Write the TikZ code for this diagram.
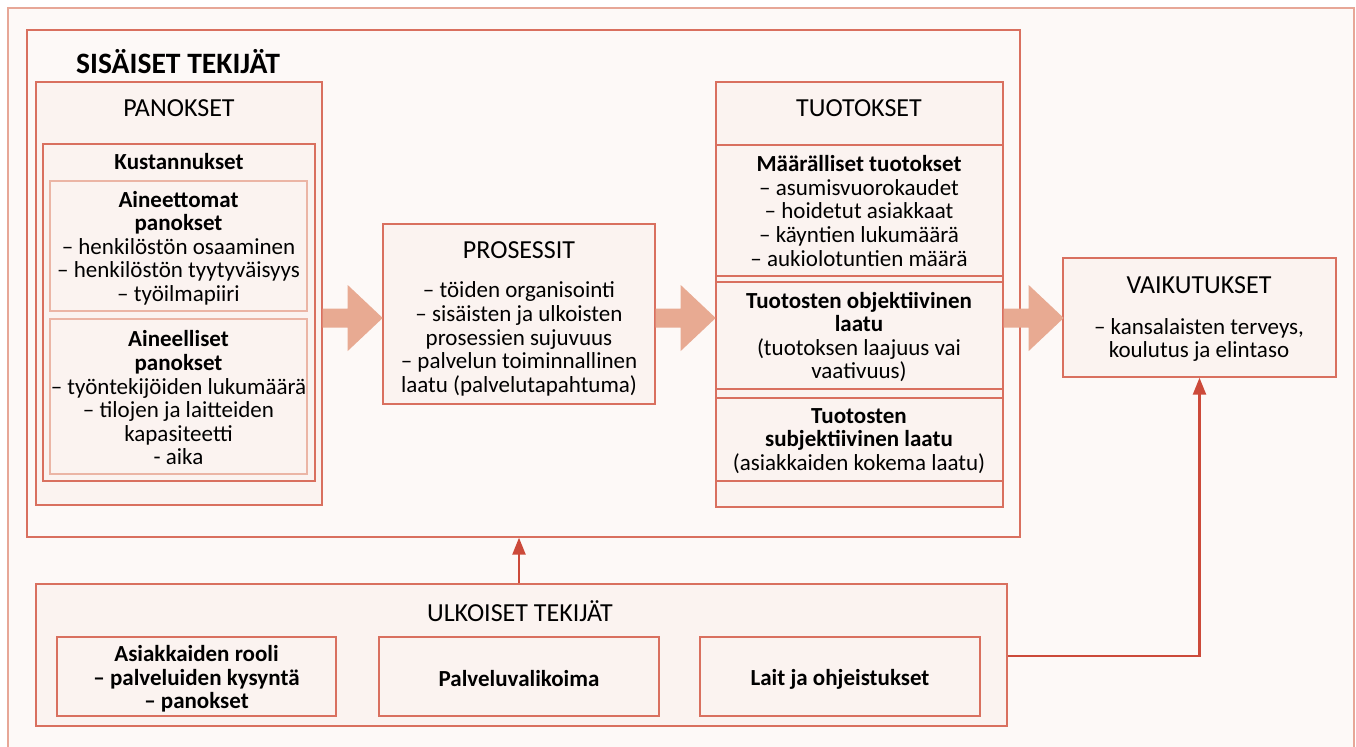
\documentclass[tikz,border=0pt]{standalone}
\usepackage{fontspec}
\setmainfont{Carlito}
\usetikzlibrary{arrows.meta,fit}
\definecolor{paper}{HTML}{FDF9F7}
\definecolor{boxfill}{HTML}{FBF3F0}
\definecolor{frameline}{HTML}{D9705F}
\definecolor{softline}{HTML}{EBB5A5}
\definecolor{arrowfill}{HTML}{E8AA92}
\definecolor{linkred}{HTML}{CC4A3A}

\begin{document}
\begin{tikzpicture}[x=0.5pt,y=-0.5pt,>=Stealth,
    frame/.style={draw=frameline,line width=0.7pt,fill=boxfill,inner sep=0pt},
    softframe/.style={draw=softline,line width=0.7pt,fill=boxfill,inner sep=0pt},
    txt/.style={align=center,inner sep=0pt,font=\fontsize{11.5}{11.8}\selectfont},
    btxt/.style={txt,font=\fontsize{11.5}{11.8}\selectfont\bfseries},
    head/.style={txt,font=\fontsize{13}{14}\selectfont},
    link/.style={draw=linkred,line width=1.2pt},
    bigarrow/.pic={\fill[arrowfill] (0,-9.5) -- (25,-9.5) -- (25,-33) -- (60,0) -- (25,33) -- (25,9.5) -- (0,9.5) -- cycle;}]
    \useasboundingbox (0,0) rectangle (1356,746);
    \fill[white] (0,0) rectangle (1356,746);
    \node[frame,draw=softline!80!frameline,fill=paper,fit={(8,8) (1354,760)}] (page) {};
    \node[frame,fill=paper,fit={(27,30) (1020,537)}] (sisaiset) {};
    \node[txt,font=\fontsize{14.8}{16}\selectfont\bfseries] (sisaiset-t) at (178,62) {SISÄISET TEKIJÄT};

    \node[frame,fit={(36,82) (322,505)}] (panokset) {};
    \node[head] (panokset-t) at (179,108) {PANOKSET};
    \node[frame,fit={(43,144) (315,481)}] (kustannukset) {};
    \node[btxt] (kustannukset-t) at (179,162) {Kustannukset};
    \node[softframe,fit={(50,181) (307,311)}] (aineettomat) {};
    \node[txt] (aineettomat-t) at (178.5,248) {\textbf{Aineettomat}\\\textbf{panokset}\\– henkilöstön osaaminen\\– henkilöstön tyytyväisyys\\– työilmapiiri};
    \node[softframe,fit={(50,319) (307,474)}] (aineelliset) {};
    \node[txt] (aineelliset-t) at (178.5,398) {\textbf{Aineelliset}\\\textbf{panokset}\\– työntekijöiden lukumäärä\\– tilojen ja laitteiden\\kapasiteetti\\- aika};

    \node[frame,fit={(383,224) (655,404)}] (prosessit) {};
    \node[head] (prosessit-t) at (519,250) {PROSESSIT};
    \node[txt] (prosessit-l) at (519,339) {– töiden organisointi\\– sisäisten ja ulkoisten\\prosessien sujuvuus\\– palvelun toiminnallinen\\laatu (palvelutapahtuma)};

    \node[frame,fit={(716,82) (1003,507)}] (tuotokset) {};
    \node[head] (tuotokset-t) at (859,108) {TUOTOKSET};
    \node[frame,fit={(716,145) (1003,276)}] (maaralliset) {};
    \node[txt] (maaralliset-t) at (859,211) {\textbf{Määrälliset tuotokset}\\– asumisvuorokaudet\\– hoidetut asiakkaat\\– käyntien lukumäärä\\– aukiolotuntien määrä};
    \node[frame,fit={(716,282) (1003,389)}] (objektiivinen) {};
    \node[txt] (objektiivinen-t) at (859,337) {\textbf{Tuotosten objektiivinen}\\\textbf{laatu}\\(tuotoksen laajuus vai\\vaativuus)};
    \node[frame,fit={(716,398) (1003,481)}] (subjektiivinen) {};
    \node[txt] (subjektiivinen-t) at (859,441) {\textbf{Tuotosten}\\\textbf{subjektiivinen laatu}\\(asiakkaiden kokema laatu)};

    \node[frame,fit={(1063,258) (1336,377)}] (vaikutukset) {};
    \node[head] (vaikutukset-t) at (1199,285) {VAIKUTUKSET};
    \node[txt] (vaikutukset-l) at (1199,340) {– kansalaisten terveys,\\koulutus ja elintaso};

    \node[frame,fit={(36,584) (1007,726)}] (ulkoiset) {};
    \node[head] (ulkoiset-t) at (520,611) {ULKOISET TEKIJÄT};
    \node[frame,fit={(57,637) (336,716)}] (asiakkaat) {};
    \node[btxt] (asiakkaat-t) at (196.5,679) {Asiakkaiden rooli\\– palveluiden kysyntä\\– panokset};
    \node[frame,fit={(379,637) (659,716)}] (valikoima) {};
    \node[btxt] (valikoima-t) at (519,679) {Palveluvalikoima};
    \node[frame,fit={(700,637) (980,716)}] (lait) {};
    \node[btxt] (lait-t) at (840,679) {Lait ja ohjeistukset};

    \pic at (panokset.east |- 0,318) {bigarrow};
    \pic at (prosessit.east |- 0,318) {bigarrow};
    \pic at (tuotokset.east |- 0,318) {bigarrow};

    \draw[link,-{Triangle[length=8.5pt,width=6.5pt]}] (ulkoiset.north -| 519,0) -- (sisaiset.south -| 519,0);
    \draw[link,-{Triangle[length=8.5pt,width=6.5pt]}] (ulkoiset.east |- 0,656) -| (vaikutukset.south);
\end{tikzpicture}
\end{document}
